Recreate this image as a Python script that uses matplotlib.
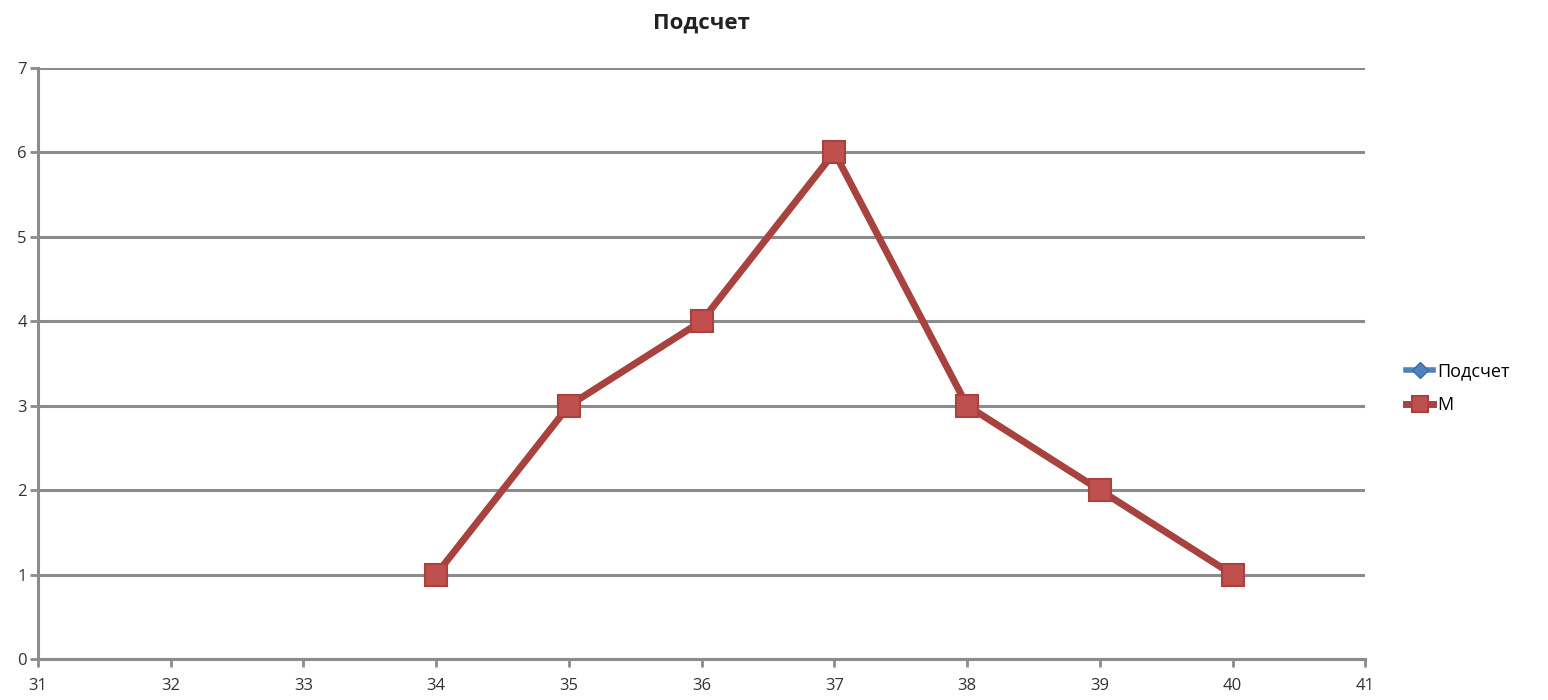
import matplotlib
matplotlib.use("Agg")
import matplotlib.pyplot as plt

x_vals = [34, 35, 36, 37, 38, 39, 40]
podschet = [1, 3, 4, 6, 3, 2, 1]
m_vals = [1, 3, 4, 6, 3, 2, 1]
x_ticks = list(range(31, 42))
y_ticks = list(range(0, 8))

plt.rcParams['font.family'] = ['Open Sans', 'DejaVu Sans']

fig = plt.figure(figsize=(15.48, 7.0), dpi=100)
ax = fig.add_axes([0.0245, 0.0586, 0.8575, 0.8444])

ax.plot(x_vals, podschet, color='#4F81BD', lw=4, marker='D', ms=11,
        mfc='#4F81BD', mec='#3A6CA8', label='Подсчет', zorder=3)
ax.plot(x_vals, m_vals, color='#A8423E', lw=5, marker='s', ms=16,
        mfc='#C0504D', mec='#A8423E', mew=1.5, label='М', zorder=4)

ax.set_xlim(31, 41)
ax.set_ylim(0, 7)
ax.set_xticks(x_ticks)
ax.set_yticks(y_ticks)
ax.grid(axis='y', color='#8C8C8C', lw=2.2)
ax.set_axisbelow(True)
for side in ('top', 'right'):
    ax.spines[side].set_visible(False)
for side in ('left', 'bottom'):
    ax.spines[side].set_color('#8C8C8C')
    ax.spines[side].set_linewidth(2.2)
ax.tick_params(axis='both', colors='#8C8C8C', width=2, length=6,
               labelcolor='#333333', labelsize=12)
ax.tick_params(axis='x', pad=8)
ax.tick_params(axis='y', pad=2)

ax.set_title('Подсчет', fontsize=16, fontweight='bold', color='#222222', pad=28)

ax.legend(loc='center left', bbox_to_anchor=(1.005, 0.458), frameon=False,
          fontsize=13, handlelength=1.5, handletextpad=0.2, labelspacing=0.9,
          borderaxespad=1.5, markerscale=0.75)

fig.savefig('out.png', dpi=100)
